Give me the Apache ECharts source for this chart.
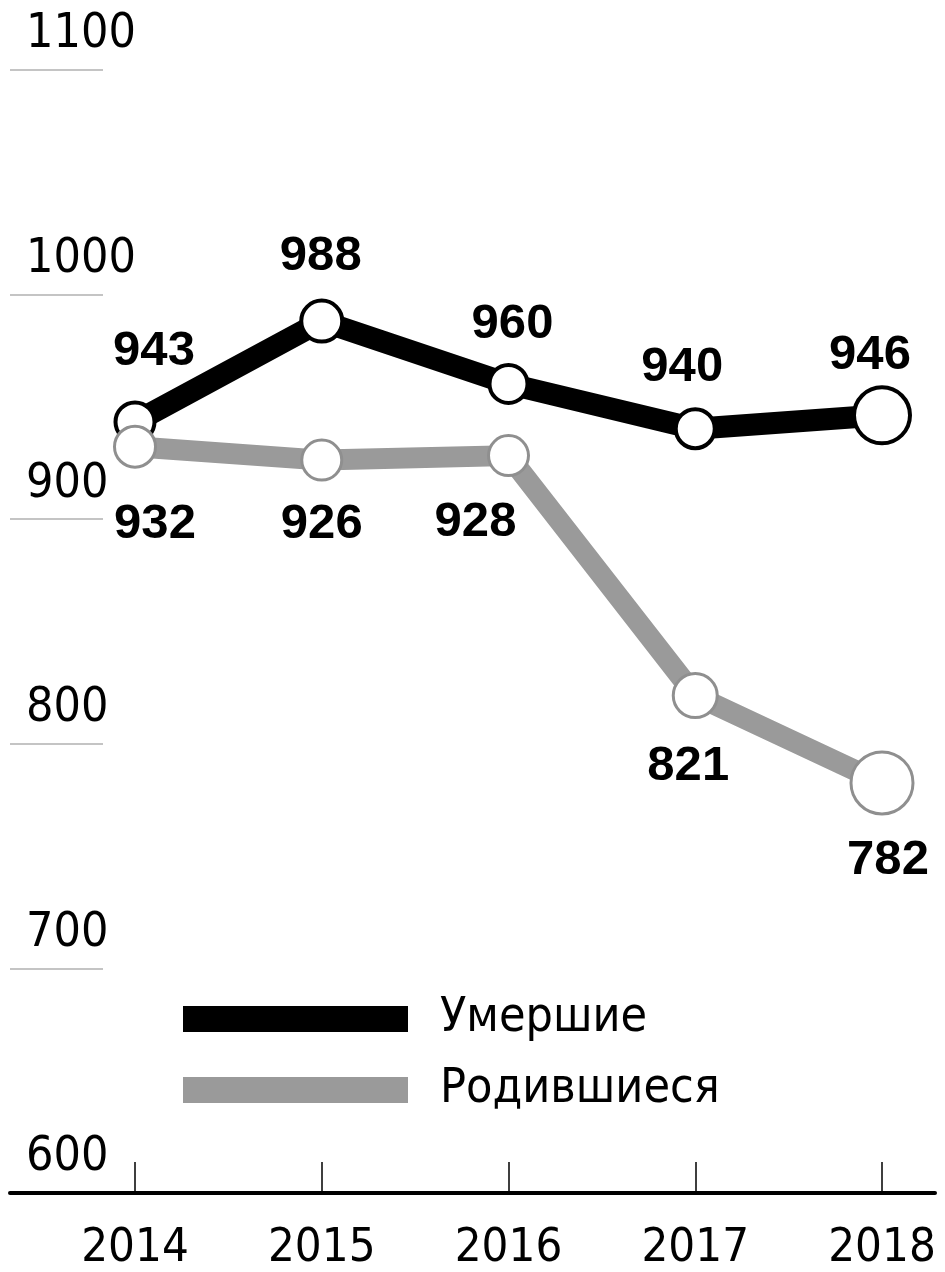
<!DOCTYPE html>
<html>
<head>
<meta charset="utf-8">
<script src="https://cdn.jsdelivr.net/npm/echarts@6/dist/echarts.min.js"></script>
<style>
  html, body { margin: 0; padding: 0; background: #fff; }
  #chart { width: 945px; height: 1272px; }
</style>
</head>
<body>
<div id="chart"></div>
<script>
// ---- data ----
const years = ['2014', '2015', '2016', '2017', '2018'];
const deaths = [943, 988, 960, 940, 946];   // Умершие
const births = [932, 926, 928, 821, 782];   // Родившиеся
const yTicks = [600, 700, 800, 900, 1000, 1100];
const seriesNames = ['Умершие', 'Родившиеся'];

// ---- styling (not data) ----
const deathSizes = [39, 41, 38, 39, 56];
const birthSizes = [41, 40, 40, 44, 62];
const deathLabelOffsets = [[19, -71], [-1, -65], [4, -59], [-13, -61], [-12, -60]];
const birthLabelOffsets = [[20, 78], [0, 64], [-33, 67], [-7, 71], [6, 78]];

const narrow = '"Liberation Sans Narrow", "DejaVu Sans Condensed", "Arial Narrow", sans-serif';
const boldFont = '"Liberation Sans", Arial, Helvetica, sans-serif';

const chart = echarts.init(document.getElementById('chart'), null, { renderer: 'canvas' });

function buildData(values, sizes, offsets) {
  return values.map((v, i) => ({
    value: v,
    symbolSize: sizes[i],
    label: { offset: offsets[i] }
  }));
}

const option = {
  backgroundColor: '#fff',
  animation: false,
  grid: [
    { left: 135, right: 63, top: 70, bottom: 79 },
    { left: 10, right: 10, top: 70, bottom: 79 }
  ],
  xAxis: [
    {
      gridIndex: 0,
      type: 'category',
      data: years,
      boundaryGap: false,
      axisLine: { show: false },
      axisTick: { show: true, inside: true, length: 29, lineStyle: { color: '#000', width: 1.5 } },
      axisLabel: { color: '#000', fontFamily: narrow, fontSize: 47, lineHeight: 47, margin: 34 },
      splitLine: { show: false }
    },
    {
      gridIndex: 1,
      type: 'value',
      min: 0, max: 1,
      z: 5,
      axisLine: { show: true, lineStyle: { color: '#000', width: 4 } },
      axisTick: { show: false },
      axisLabel: { show: false },
      splitLine: { show: false }
    }
  ],
  yAxis: [
    {
      gridIndex: 0,
      type: 'value',
      min: yTicks[0], max: yTicks[yTicks.length - 1], interval: 100,
      show: false
    },
    {
      gridIndex: 1,
      type: 'value',
      min: yTicks[0], max: yTicks[yTicks.length - 1], interval: 100,
      z: 1,
      axisLine: { show: false },
      axisTick: { show: true, inside: true, length: 93, lineStyle: { color: '#c4c4c4', width: 2 } },
      axisLabel: {
        inside: true, margin: 16, color: '#000', fontFamily: narrow, fontSize: 48,
        verticalAlign: 'bottom', lineHeight: 48, padding: [0, 0, 11, 0],
        formatter: v => String(v)
      },
      splitLine: { show: false }
    }
  ],
  legend: {
    orient: 'vertical',
    left: 178,
    top: 989,
    icon: 'rect',
    itemWidth: 225,
    itemHeight: 26,
    itemGap: 21,
    textStyle: { color: '#000', fontFamily: narrow, fontSize: 48, lineHeight: 50, padding: [0, 0, 0, 27] },
    data: [
      { name: seriesNames[0], itemStyle: { color: '#000', borderWidth: 0 } },
      { name: seriesNames[1], itemStyle: { color: '#9a9a9a', borderWidth: 0 } }
    ]
  },
  series: [
    {
      name: seriesNames[0],
      type: 'line',
      xAxisIndex: 0, yAxisIndex: 0,
      data: buildData(deaths, deathSizes, deathLabelOffsets),
      symbol: 'circle',
      showSymbol: true,
      lineStyle: { color: '#000', width: 22 },
      itemStyle: { color: '#fff', borderColor: '#000', borderWidth: 4 },
      label: {
        show: true, position: 'inside', color: '#000',
        fontFamily: boldFont, fontWeight: 'bold', fontSize: 49
      },
      emphasis: { disabled: true },
      z: 2
    },
    {
      name: seriesNames[1],
      type: 'line',
      xAxisIndex: 0, yAxisIndex: 0,
      data: buildData(births, birthSizes, birthLabelOffsets),
      symbol: 'circle',
      showSymbol: true,
      lineStyle: { color: '#9a9a9a', width: 21 },
      itemStyle: { color: '#fff', borderColor: '#8f8f8f', borderWidth: 3 },
      label: {
        show: true, position: 'inside', color: '#000',
        fontFamily: boldFont, fontWeight: 'bold', fontSize: 49
      },
      emphasis: { disabled: true },
      z: 3
    }
  ]
};

chart.setOption(option);
</script>
</body>
</html>
